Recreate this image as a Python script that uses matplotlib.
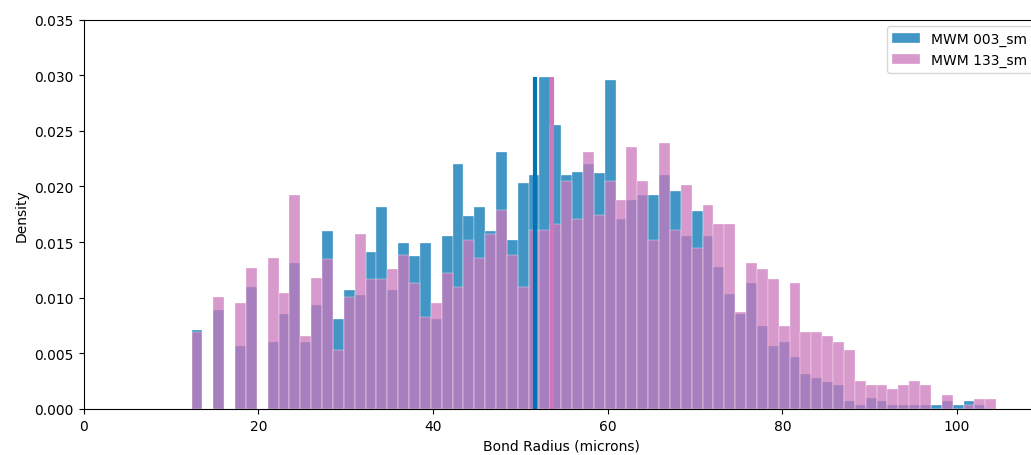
import numpy as np
import matplotlib
matplotlib.use("Agg")
import matplotlib.pyplot as plt

# Shared histogram bin edges (microns)
bin_start = 12.35
bin_width = 1.245
n_bins = 74
edges = bin_start + bin_width * np.arange(n_bins + 1)

# Density per bin
mwm003 = [0.00706, 0, 0.00889, 0, 0.00565, 0.01096, 0, 0.00601, 0.00850, 0.01313,
          0.00601, 0.00931, 0.01598, 0.00808, 0.01066, 0.01027, 0.01415, 0.01817, 0.01070, 0.01493,
          0.01376, 0.01493, 0.00811, 0.01556, 0.02205, 0.01736, 0.01817, 0.01595, 0.02307, 0.01520,
          0.02028, 0.02103, 0.02980, 0.02553, 0.02103, 0.02127, 0.02205, 0.02124, 0.02953, 0.01703,
          0.01880, 0.01920, 0.01920, 0.02103, 0.01959, 0.01559, 0.01778, 0.01559, 0.01277, 0.01030,
          0.00853, 0.01136, 0.00745, 0.00565, 0.00604, 0.00463, 0.00318, 0.00279, 0.00240, 0.00213,
          0.00075, 0.00036, 0.00099, 0.00075, 0.00036, 0.00036, 0.00036, 0.00036, 0.00036, 0.00075,
          0.00036, 0.00075, 0.00036, 0]
mwm133 = [0.00691, 0, 0.01006, 0, 0.00952, 0.01265, 0, 0.01355, 0.01042, 0.01920,
          0.00655, 0.01175, 0.01352, 0.00526, 0.01006, 0.01571, 0.01172, 0.01172, 0.01262, 0.01388,
          0.01133, 0.00823, 0.00952, 0.01220, 0.01096, 0.01520, 0.01355, 0.01571, 0.01790, 0.01388,
          0.01096, 0.01610, 0.01610, 0.01661, 0.02052, 0.01703, 0.02307, 0.01742, 0.02052, 0.01880,
          0.02358, 0.02052, 0.01523, 0.02394, 0.01610, 0.02010, 0.01445, 0.01829, 0.01661, 0.01661,
          0.00871, 0.01313, 0.01262, 0.01172, 0.00745, 0.01136, 0.00694, 0.00694, 0.00655, 0.00604,
          0.00526, 0.00255, 0.00213, 0.00213, 0.00177, 0.00213, 0.00252, 0.00213, 0, 0.00126,
          0, 0.00036, 0.00087, 0.00087]

labels = ["MWM 003_sm", "MWM 133_sm"]
means = [51.67, 53.66]
colors = ["#0173B2", "#CC78BC"]

W, H = 1031, 456
fig = plt.figure(figsize=(W / 100, H / 100), dpi=100)
left, right, bottom, top = 83.7, 1040.0, 410.0, 20.5
ax = fig.add_axes([left / W, 1 - bottom / H, (right - left) / W, (bottom - top) / H])

centers = 0.5 * (edges[:-1] + edges[1:])
for vals, lab, col in zip([mwm003, mwm133], labels, colors):
    ax.hist(centers, bins=edges, weights=vals, color=col, alpha=0.75,
            edgecolor="white", linewidth=0.3, label=lab)

line_top = max(mwm003)
for m, col in zip(means, colors):
    ax.vlines(m, 0, line_top, color=col, linewidth=3)

ax.set_xlim(0, 109.5)
ax.set_ylim(0, 0.035)
ax.set_yticks(np.arange(0, 0.0351, 0.005))
ax.set_xlabel("Bond Radius (microns)")
ax.set_ylabel("Density")
ax.legend(loc="upper right")

fig.savefig("out.png", dpi=100)
